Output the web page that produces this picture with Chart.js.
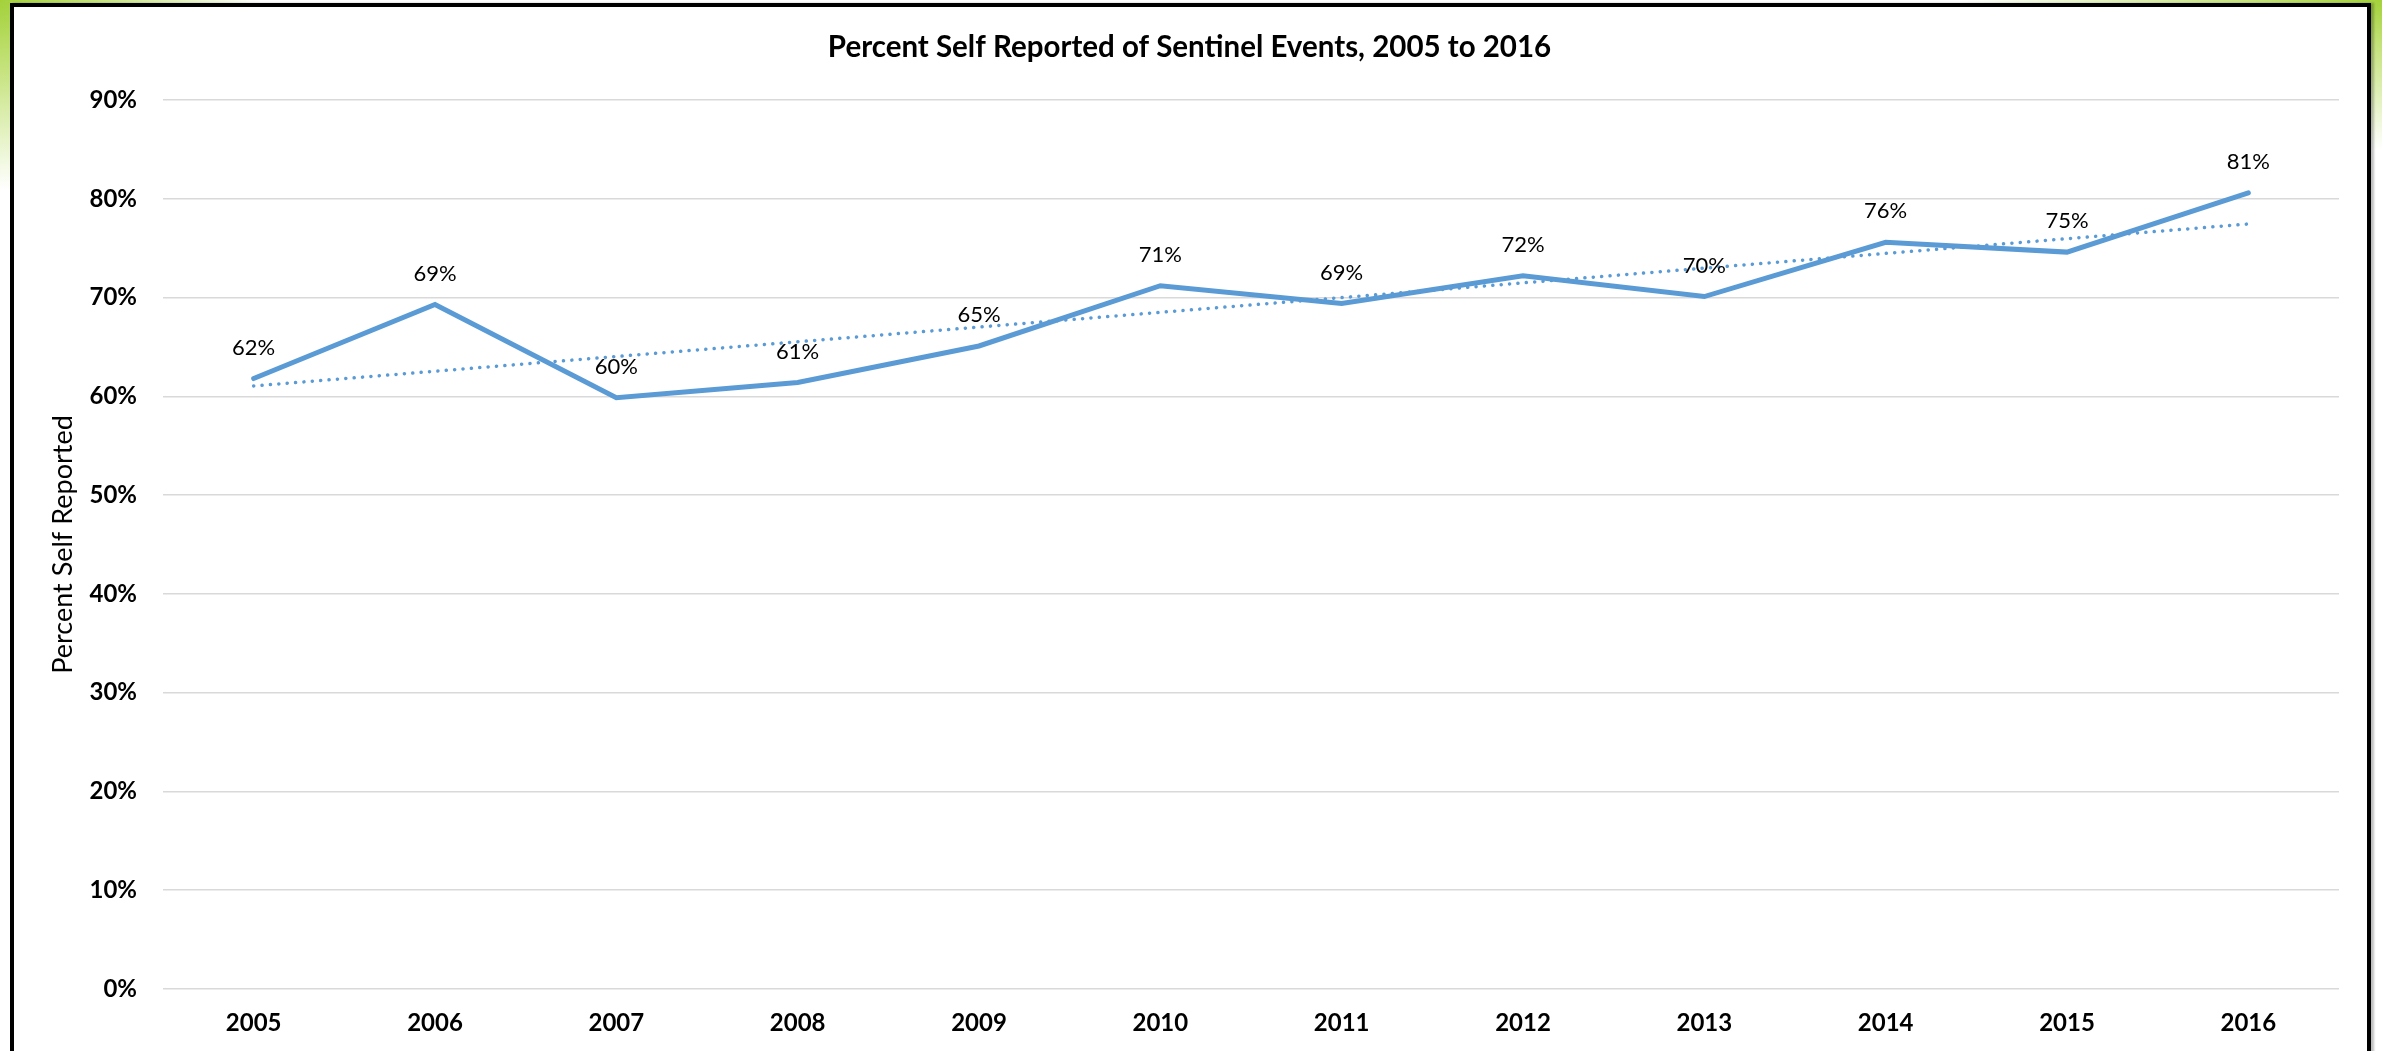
<!DOCTYPE html>
<html>
<head>
<meta charset="utf-8">
<title>Percent Self Reported of Sentinel Events</title>
<script src="https://cdn.jsdelivr.net/npm/chart.js@4.4.1/dist/chart.umd.min.js"></script>
<style>
  html, body {
    margin: 0;
    padding: 0;
    width: 2382px;
    height: 1051px;
    overflow: hidden;
    background:
      radial-gradient(ellipse 260px 190px at 0 0, #a3d13a 0%, #c4e27a 35%, rgba(255,255,255,0) 100%),
      radial-gradient(ellipse 420px 150px at 100% 0, #a3d13a 0%, #c4e27a 30%, rgba(255,255,255,0) 100%),
      #ffffff;
  }
  #frame {
    position: absolute;
    left: 10px;
    top: 3px;
    width: 2353px;
    height: 1100px;
    border: 4px solid #000;
    background: #fff;
    box-shadow: 3px 0 2px rgba(0,0,0,0.25);
  }
  #wrap {
    position: absolute;
    left: 0;
    top: 0;
    width: 2382px;
    height: 1051px;
  }
</style>
</head>
<body>
<div id="frame"></div>
<div id="wrap"><canvas id="myChart"></canvas></div>
<script>
let years = ['2005', '2006', '2007', '2008', '2009', '2010', '2011', '2012', '2013', '2014', '2015', '2016'];
let selfReported = [61.8, 69.3, 59.85, 61.4, 65.1, 71.2, 69.4, 72.2, 70.1, 75.6, 74.6, 80.6];
// linear trend, only its two ends are given
let trend = [61.05, null, null, null, null, null, null, null, null, null, null, 77.45];
let yTicks = [0, 10, 20, 30, 40, 50, 60, 70, 80, 90];

const lineBlue = '#5b9bd5';

// percent labels above each point of the main series
const pointLabels = {
    id: 'pointLabels',
    afterDatasetsDraw(chart) {
        const ctx = chart.ctx;
        const meta = chart.getDatasetMeta(0);
        ctx.save();
        ctx.font = '22px Lato';
        ctx.fillStyle = '#000';
        ctx.textAlign = 'center';
        ctx.textBaseline = 'middle';
        meta.data.forEach((pt, j) => {
            ctx.fillText(Math.round(selfReported[j]) + '%', pt.x, pt.y - 31);
        });
        ctx.restore();
    }
};

const ctx = document.getElementById('myChart');

new Chart(ctx, {
    type: 'line',
    data: {
        labels: years,
        datasets: [{
            label: 'Percent Self Reported',
            data: selfReported,
            borderColor: lineBlue,
            borderWidth: 5,
            pointRadius: 0,
            tension: 0,
            borderCapStyle: 'round',
            borderJoinStyle: 'miter'
        }, {
            label: 'Linear trend',
            data: trend,
            borderColor: lineBlue,
            borderWidth: 3.5,
            borderDash: [0.1, 8.3],
            borderCapStyle: 'round',
            pointRadius: 0,
            spanGaps: true
        }]
    },
    options: {
        responsive: true,
        maintainAspectRatio: false,
        animation: false,
        layout: {
            padding: { left: 40, right: 43, top: 0, bottom: 0 }
        },
        plugins: {
            legend: { display: false },
            tooltip: { enabled: false },
            title: {
                display: true,
                text: 'Percent Self Reported of Sentinel Events, 2005 to 2016',
                color: '#000',
                font: { family: 'Lato', size: 29.5, weight: 'bold', lineHeight: 1.2 },
                padding: { top: 29.3, bottom: 35.3 }
            }
        },
        scales: {
            x: {
                offset: true,
                grid: { display: false, drawTicks: false },
                border: { display: false },
                ticks: {
                    color: '#000',
                    padding: 20,
                    font: { family: 'Lato', size: 24, weight: 'bold' }
                },
                afterFit(scale) {
                    scale.height = 62;
                }
            },
            y: {
                min: 0,
                max: 90,
                afterBuildTicks(scale) {
                    scale.ticks = yTicks.map(v => ({ value: v }));
                },
                grid: { color: '#d9d9d9', lineWidth: 1.5, drawTicks: false },
                border: { display: false },
                ticks: {
                    color: '#000',
                    padding: 26,
                    font: { family: 'Lato', size: 24, weight: 'bold' },
                    callback: v => v + '%'
                },
                title: {
                    display: true,
                    text: 'Percent Self Reported',
                    color: '#000',
                    font: { family: 'Lato', size: 27 },
                    padding: { top: 6.8, bottom: 0 }
                },
                afterFit(scale) {
                    scale.width = 123;
                }
            }
        }
    },
    plugins: [pointLabels]
});
</script>
</body>
</html>
